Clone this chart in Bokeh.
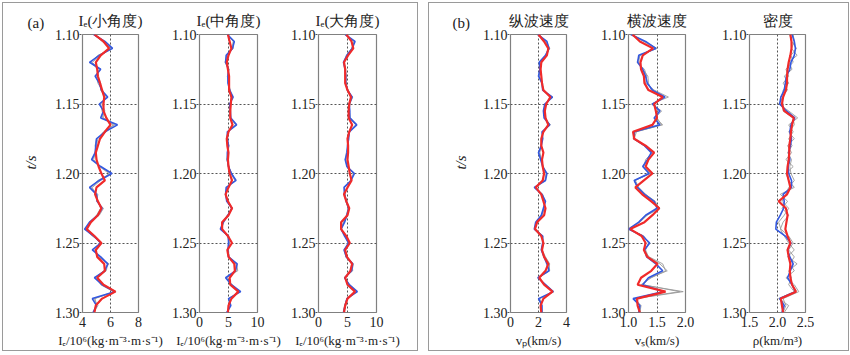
from bokeh.plotting import figure
from bokeh.layouts import row, column
from bokeh.models import Range1d, FixedTicker, PrintfTickFormatter, Spacer
from bokeh.embed import file_html
from bokeh.resources import INLINE

# ---------------- data ----------------
T = [1.100, 1.105, 1.110, 1.115, 1.120, 1.125, 1.130, 1.135, 1.140, 1.145,
     1.150, 1.155, 1.160, 1.165, 1.170, 1.175, 1.180, 1.185, 1.190, 1.195,
     1.200, 1.205, 1.210, 1.215, 1.220, 1.225, 1.230, 1.235, 1.240, 1.245,
     1.250, 1.255, 1.260, 1.265, 1.270, 1.275, 1.280, 1.285, 1.290, 1.295, 1.300]

ie_small_red = [4.85,5.5,5.9,5.3,4.95, 5.05,5.1,5.25,5.4,5.55, 5.5,5.5,5.7,6.0,5.6, 5.25,5.1,4.95,5.0,5.15, 5.35,
                5.6,5.0,4.9,5.1,5.35, 5.1,4.6,4.3,4.85,5.35, 4.95,5.05,5.55,5.6,5.05, 5.5,6.35,5.4,4.95,4.85]
ie_small_blue = [4.8,5.6,6.15,5.2,4.5, 5.3,4.9,5.2,5.35,5.8, 5.2,5.5,5.3,6.5,5.6, 5.0,4.95,4.9,4.65,5.3, 6.1,
                 5.2,4.5,5.0,5.05,5.4, 5.1,4.5,4.15,4.8,5.3, 4.7,5.3,5.8,5.6,4.85, 5.4,6.3,4.7,5.0,4.75]
ie_small_g1 = [4.9,5.5,6.0,5.3,4.7, 5.2,5.0,5.1,5.4,5.7, 5.3,5.4,5.5,6.3,5.5, 5.1,5.0,4.9,4.8,5.2, 5.9,
               5.3,4.7,4.9,5.1,5.3, 5.0,4.6,4.3,4.9,5.3, 4.8,5.2,5.8,5.7,5.0, 5.3,6.2,4.9,5.0,4.8]
ie_small_g2 = [4.8,5.4,6.1,5.1,4.6, 5.1,5.1,5.3,5.3,5.6, 5.4,5.6,5.4,6.2,5.7, 5.0,4.9,5.0,4.7,5.3, 6.0,
               5.1,4.6,5.1,5.0,5.5, 5.2,4.5,4.2,4.7,5.4, 4.9,5.1,5.9,5.5,4.9, 5.5,6.4,4.8,5.1,4.8]

ie_mid_red = [4.9,5.2,5.5,5.0,4.7, 4.9,5.1,5.1,5.1,5.5, 5.4,5.3,5.3,5.7,5.0, 4.7,4.8,5.0,4.9,5.0, 5.2,
              5.6,5.0,4.5,4.9,5.6, 5.0,3.9,3.9,4.9,5.6, 4.8,5.0,6.0,6.1,5.2, 5.3,6.7,5.5,5.0,4.9]
ie_mid_blue = [4.8,6.0,5.7,4.6,4.5, 5.0,4.9,4.9,5.2,5.8, 5.2,5.3,5.4,6.4,4.8, 4.8,5.0,4.8,4.8,5.0, 5.5,
               6.3,4.6,4.5,4.7,5.6, 4.9,4.1,3.6,5.0,5.0, 4.9,5.0,6.5,6.2,4.5, 5.5,7.1,5.0,5.4,4.7]
ie_mid_g1 = [4.9,5.8,5.6,4.8,4.6, 5.0,5.0,5.0,5.1,5.7, 5.3,5.2,5.4,6.2,4.9, 4.8,4.9,4.9,4.8,5.1, 5.4,
             6.1,4.7,4.6,4.8,5.5, 5.0,4.2,3.8,4.9,5.2, 4.9,5.1,6.3,6.3,4.7, 5.4,6.9,5.1,5.2,4.8]
ie_mid_g2 = [4.8,5.9,5.8,4.7,4.4, 5.1,4.8,5.0,5.3,5.6, 5.2,5.4,5.3,6.3,4.9, 4.7,5.1,4.9,4.7,5.0, 5.6,
             6.2,4.8,4.5,4.9,5.7, 4.8,4.0,3.7,4.8,5.1, 5.0,5.1,6.4,6.6,4.6, 5.6,7.0,5.0,5.3,4.8]

ie_large_red = [4.8,5.7,6.0,5.1,4.4, 4.6,4.6,4.6,5.0,5.6, 5.3,5.2,5.2,5.8,5.3, 5.0,5.1,5.1,5.0,5.2, 5.4,
                5.7,5.0,4.4,4.8,5.3, 5.0,3.9,3.9,4.8,5.4, 4.6,4.9,5.8,5.5,4.6, 5.0,6.3,5.0,4.6,4.4]
ie_large_blue = [4.6,6.3,5.8,4.9,4.3, 4.6,4.7,4.7,5.0,5.8, 5.3,5.4,5.4,6.6,5.3, 5.2,5.0,4.9,4.6,4.9, 6.2,
                 5.6,4.4,4.5,4.8,5.2, 4.9,4.5,3.9,4.5,5.2, 4.4,4.8,5.9,5.7,4.5, 5.3,6.7,4.9,4.6,4.3]
ie_large_g1 = [4.7,6.1,5.9,5.0,4.4, 4.6,4.8,4.6,5.1,5.7, 5.2,5.3,5.3,6.4,5.4, 5.1,5.0,5.0,4.7,5.0, 6.0,
               5.6,4.5,4.4,4.9,5.3, 5.0,4.3,3.9,4.6,5.3, 4.5,4.9,6.0,5.8,4.6, 5.2,6.5,5.0,4.7,4.4]
ie_large_g2 = [4.6,6.2,5.7,4.8,4.4, 4.7,4.6,4.8,4.9,5.9, 5.4,5.3,5.5,6.5,5.2, 5.1,5.1,4.8,4.7,4.9, 6.1,
               5.5,4.5,4.6,4.7,5.1, 4.8,4.4,3.8,4.6,5.1, 4.5,4.7,5.8,5.9,4.5, 5.4,6.6,4.9,4.5,4.3]

vp_red = [2.0,2.4,2.7,2.6,2.2, 2.15,2.2,2.25,2.35,2.85, 2.55,2.45,2.5,2.7,2.35, 2.2,2.2,2.35,2.25,2.3, 2.4,
          2.3,1.8,2.2,2.35,2.5, 2.4,1.9,1.75,2.2,2.35, 2.25,2.4,2.7,2.5,2.05, 2.4,3.0,2.35,2.15,2.2]
vp_blue = [1.95,2.6,2.75,2.5,2.05, 2.1,2.0,2.25,2.3,3.0, 2.45,2.35,2.4,2.8,2.25, 2.3,2.2,2.0,2.15,2.3, 2.6,
           2.5,1.7,2.25,2.5,2.35, 2.2,1.8,1.7,2.3,2.3, 2.2,2.4,2.6,2.75,1.95, 2.5,3.05,2.0,2.25,2.25]
vp_g1 = [2.0,2.55,2.8,2.55,2.1, 2.1,2.05,2.25,2.35,2.95, 2.5,2.4,2.45,2.85,2.3, 2.25,2.2,2.1,2.2,2.3, 2.55,
         2.45,1.75,2.2,2.45,2.4, 2.25,1.85,1.72,2.25,2.35, 2.2,2.45,2.75,2.8,2.0, 2.45,3.1,2.1,2.2,2.25]
vp_g2 = [2.0,2.5,2.72,2.5,2.1, 2.15,2.05,2.3,2.3,2.9, 2.5,2.35,2.5,2.75,2.3, 2.3,2.15,2.05,2.2,2.35, 2.55,
         2.5,1.75,2.3,2.45,2.4, 2.25,1.85,1.75,2.3,2.3, 2.25,2.5,2.8,2.7,2.0, 2.5,3.05,2.05,2.2,2.2]

vs_red = [1.07,1.2,1.43,1.25,1.21, 1.22,1.27,1.28,1.35,1.6, 1.45,1.48,1.5,1.42,1.08, 1.1,1.3,1.45,1.35,1.3, 1.42,
          1.27,1.12,1.24,1.4,1.54, 1.42,1.28,1.03,1.23,1.3, 1.27,1.33,1.51,1.4,1.22, 1.16,1.65,1.15,1.16,1.2]
vs_blue = [1.04,1.3,1.48,1.18,1.16, 1.25,1.3,1.33,1.42,1.64, 1.42,1.55,1.45,1.55,1.1, 1.1,1.28,1.4,1.33,1.25, 1.36,
           1.1,1.16,1.28,1.45,1.5, 1.3,1.18,1.0,1.25,1.37, 1.28,1.32,1.48,1.6,1.35, 1.25,1.62,1.08,1.2,1.18]
vs_g1 = [1.05,1.28,1.5,1.2,1.15, 1.28,1.32,1.3,1.45,1.7, 1.4,1.58,1.47,1.6,1.12, 1.08,1.3,1.42,1.3,1.27, 1.38,
         1.12,1.18,1.3,1.47,1.52, 1.32,1.2,1.02,1.27,1.35, 1.3,1.35,1.55,1.68,1.38, 1.25,1.9,1.1,1.22,1.2]
vs_g2 = [1.06,1.27,1.46,1.2,1.18, 1.25,1.34,1.35,1.4,1.62, 1.45,1.52,1.5,1.58,1.14, 1.1,1.27,1.44,1.35,1.26, 1.38,
         1.1,1.15,1.3,1.45,1.55, 1.33,1.2,1.0,1.25,1.38, 1.27,1.36,1.6,1.65,1.4, 1.22,1.96,1.12,1.2,1.2]

rho_red = [2.23,2.25,2.25,2.23,2.2, 2.18,2.17,2.17,2.15,2.1, 2.08,2.12,2.29,2.26,2.24, 2.23,2.21,2.21,2.2,2.18, 2.17,
           2.2,2.23,2.17,2.02,2.15, 2.18,2.16,2.14,2.18,2.23, 2.18,2.2,2.23,2.22,2.23, 2.26,2.33,2.06,2.08,2.1]
rho_blue = [2.26,2.3,2.32,2.3,2.24, 2.22,2.16,2.14,2.12,2.06, 2.04,2.16,2.31,2.24,2.22, 2.25,2.23,2.2,2.22,2.19, 2.2,
            2.25,2.25,2.1,2.12,2.11, 2.05,1.98,1.97,2.14,2.24, 2.18,2.22,2.28,2.23,2.18, 2.26,2.32,2.04,2.12,2.08]
rho_g1 = [2.28,2.3,2.25,2.35,2.2, 2.26,2.12,2.2,2.1,2.1, 2.02,2.2,2.36,2.2,2.28, 2.2,2.26,2.18,2.25,2.22, 2.24,
          2.3,2.2,2.15,2.08,2.2, 2.12,2.02,2.06,2.2,2.28, 2.2,2.3,2.22,2.3,2.15, 2.3,2.38,2.1,2.15,2.1]
rho_g2 = [2.22,2.25,2.34,2.24,2.28, 2.15,2.2,2.1,2.18,2.05, 2.1,2.1,2.28,2.3,2.2, 2.3,2.18,2.25,2.15,2.28, 2.15,
          2.2,2.3,2.05,2.18,2.08, 2.2,2.1,2.05,2.12,2.2, 2.3,2.18,2.35,2.2,2.25, 2.2,2.3,2.02,2.2,2.12]

y_ticks = [1.10, 1.15, 1.20, 1.25, 1.30]
y_grid = [1.15, 1.20, 1.25]

FONT = "Liberation Serif"
INK = "#222222"
RED = "#f02a2a"
BLUE = "#3358e0"
GRAY = "#9a9a9a"
FRAME = "#808080"
TOP, FH, BOTTOM = 31, 278, 37


def side(tag, bl, br, tag_offset):
    """narrow strip holding the panel-group tag and the shared t/s axis label"""
    p = figure(frame_width=2, frame_height=256, min_border_left=bl, min_border_right=br,
               min_border_top=TOP, min_border_bottom=TOP + FH + BOTTOM - TOP - 256,
               x_range=Range1d(0, 1), y_range=Range1d(0, 1), x_axis_type=None,
               output_backend="svg", toolbar_location=None, title=tag)
    p.outline_line_color = None
    p.grid.visible = False
    p.title.align = "left"
    p.title.offset = tag_offset
    p.title.standoff = 7
    p.title.text_font = FONT
    p.title.text_font_size = "15px"
    p.title.text_font_style = "normal"
    p.title.text_color = INK
    ax = p.yaxis[0]
    ax.ticker = FixedTicker(ticks=[])
    ax.axis_line_color = None
    ax.major_tick_out = 0
    ax.major_tick_in = 0
    ax.minor_tick_line_color = None
    ax.major_label_standoff = 0
    ax.axis_label = "t/s"
    ax.axis_label_standoff = 0
    ax.axis_label_text_font = FONT
    ax.axis_label_text_font_size = "15px"
    ax.axis_label_text_font_style = "italic"
    ax.axis_label_text_color = INK
    return p


def panel(title, xlabel, xstart, xend, xticks, xgrid, xfmt, series, bl, fw, br):
    p = figure(frame_width=fw, frame_height=FH,
               min_border_left=bl, min_border_right=br, min_border_top=TOP, min_border_bottom=BOTTOM,
               x_range=Range1d(xstart, xend), y_range=Range1d(1.30, 1.10),
               output_backend="svg", toolbar_location=None, title=title)
    p.title.align = "center"
    p.title.text_font = FONT
    p.title.text_font_size = "15px"
    p.title.text_font_style = "normal"
    p.title.text_color = INK
    p.title.standoff = 11
    p.outline_line_color = FRAME
    p.outline_line_width = 1.2

    p.xaxis.ticker = FixedTicker(ticks=xticks)
    p.xaxis.formatter = PrintfTickFormatter(format=xfmt)
    p.yaxis.ticker = FixedTicker(ticks=y_ticks)
    p.yaxis.formatter = PrintfTickFormatter(format="%.2f")
    for ax in (p.xaxis[0], p.yaxis[0]):
        ax.axis_line_color = None
        ax.major_label_text_font = FONT
        ax.major_label_text_font_size = "14px"
        ax.major_label_text_color = INK
        ax.minor_tick_line_color = None
        ax.major_tick_in = 0
    p.xaxis.major_tick_out = 0
    p.xaxis.major_label_standoff = 4
    p.xaxis.axis_label = xlabel
    p.xaxis.axis_label_standoff = 3
    p.xaxis.axis_label_text_font = FONT
    p.xaxis.axis_label_text_font_size = "13px"
    p.xaxis.axis_label_text_font_style = "normal"
    p.xaxis.axis_label_text_color = INK
    p.yaxis.major_tick_out = 3
    p.yaxis.major_tick_line_color = "#555555"
    p.yaxis.major_tick_line_dash = "2 2"
    p.yaxis.major_label_standoff = 0

    p.xgrid.ticker = FixedTicker(ticks=xgrid)
    p.ygrid.ticker = FixedTicker(ticks=y_grid)
    for g in (p.xgrid[0], p.ygrid[0]):
        g.grid_line_color = "#555555"
        g.grid_line_dash = "2 2"
        g.grid_line_width = 1

    g1, g2, blue, red = series
    p.line(g1, T, line_color=GRAY, line_width=0.9)
    p.line(g2, T, line_color=GRAY, line_width=0.9)
    p.line(blue, T, line_color=BLUE, line_width=1.6)
    p.line(red, T, line_color=RED, line_width=2.2)
    return p


fa0 = side("(a)", 35, 10, -11)
fa1 = panel("Iₑ(小角度)", "Iₑ/10⁶(kg·m⁻³·m·s⁻¹)", 4, 8, [4, 6, 8], [6], "%d",
            (ie_small_g1, ie_small_g2, ie_small_blue, ie_small_red), 32, 56, 30)
fa2 = panel("Iₑ(中角度)", "Iₑ/10⁶(kg·m⁻³·m·s⁻¹)", 0, 10, [0, 5, 10], [5], "%d",
            (ie_mid_g1, ie_mid_g2, ie_mid_blue, ie_mid_red), 30, 58, 30)
fa3 = panel("Iₑ(大角度)", "Iₑ/10⁶(kg·m⁻³·m·s⁻¹)", 0, 10, [0, 5, 10], [5], "%d",
            (ie_large_g1, ie_large_g2, ie_large_blue, ie_large_red), 30, 58, 41)

fb0 = side("(b)", 39, 9, -16)
fb1 = panel("纵波速度", "vₚ(km/s)", 0, 4, [0, 2, 4], [2], "%d",
            (vp_g1, vp_g2, vp_blue, vp_red), 30, 56, 31)
fb2 = panel("横波速度", "vₛ(km/s)", 1.0, 2.0, [1.0, 1.5, 2.0], [1.5], "%.1f",
            (vs_g1, vs_g2, vs_blue, vs_red), 31, 57, 32)
fb3 = panel("密度", "ρ(km/m³)", 1.5, 2.5, [1.5, 2.0, 2.5], [2.0], "%.1f",
            (rho_g1, rho_g2, rho_blue, rho_red), 32, 56, 43)

box = {"border": "1px solid #9a9a9a"}
ga = row(fa0, fa1, fa2, fa3, styles=box)
gb = row(fb0, fb1, fb2, fb3, styles=box)
layout = column(Spacer(height=2), row(Spacer(width=2), ga, Spacer(width=10), gb))

open("out.html", "w").write(file_html(layout, INLINE))
